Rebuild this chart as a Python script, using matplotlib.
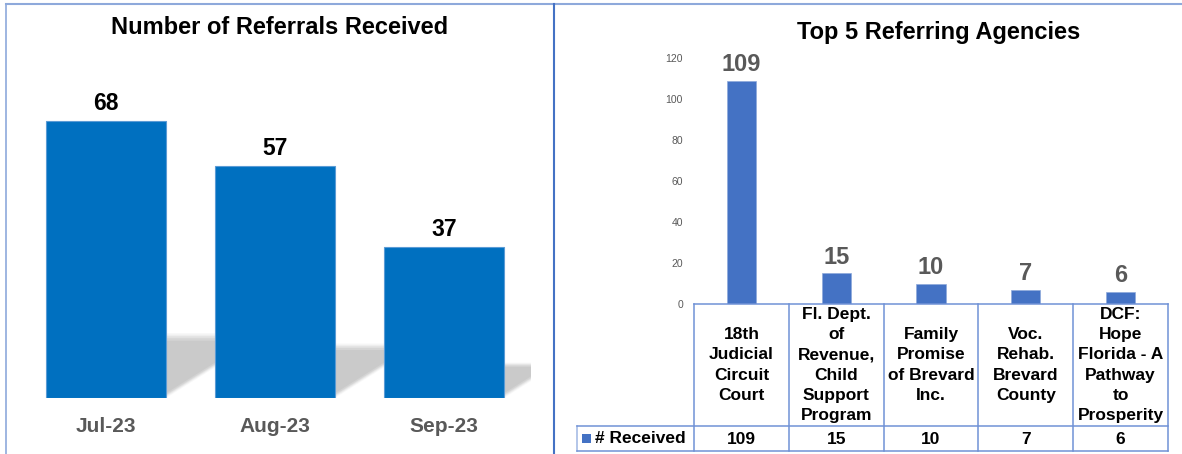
import matplotlib
matplotlib.use('Agg')
import matplotlib.pyplot as plt
from matplotlib.patches import Polygon, Rectangle
from matplotlib.lines import Line2D

# ---------------- data ----------------
months = ['Jul-23', 'Aug-23', 'Sep-23']
referrals = [68, 57, 37]

agencies = ['18th\nJudicial\nCircuit\nCourt',
            'Fl. Dept.\nof\nRevenue,\nChild\nSupport\nProgram',
            'Family\nPromise\nof Brevard\nInc.',
            'Voc.\nRehab.\nBrevard\nCounty',
            'DCF:\nHope\nFlorida - A\nPathway\nto\nProsperity']
received = [109, 15, 10, 7, 6]
series_name = '# Received'
y_ticks = [0, 20, 40, 60, 80, 100, 120]

title_left = 'Number of Referrals Received'
title_right = 'Top 5 Referring Agencies'

# ---------------- setup ----------------
plt.rcParams['font.family'] = ['Liberation Sans', 'DejaVu Sans']
W, H = 1182, 454
fig = plt.figure(figsize=(W / 100, H / 100), dpi=100)


def fx(x):
    return x / W


def fy(y):
    return 1 - y / H


def px_x(ax, xd):
    return ax.transData.transform((xd, 0))[0]


# ---------------- left chart ----------------
axL = fig.add_axes([fx(19), fy(398), fx(531) - fx(19), fy(40) - fy(398)])
xl = list(range(len(months)))
axL.set_xlim(-0.515, 2.515)
axL.set_ylim(0, 88)
bw = 0.71
axL.bar(xl, referrals, width=bw, color='#0070C0', edgecolor='#5B9BD5',
        linewidth=0.8, zorder=3)

# soft perspective shadows
ppx = (531 - 19) / (2.515 + 0.515)
ppy = 358 / 88
shear = 1.6 * ppy / ppx
for x, v in zip(xl, referrals):
    dh_full = 0.235 * v
    layers = [(1.0, 0.0, 0.12), (0.975, 0.01, 0.2), (0.95, 0.02, 0.3),
              (0.92, 0.03, 0.45), (0.88, 0.045, 0.7)]
    for s, inset, a in layers:
        dh = dh_full * s
        dx = shear * dh
        poly = Polygon([(x - bw / 2, 0), (x + bw / 2 - inset, 0),
                        (x + bw / 2 - inset + dx, dh), (x - bw / 2 + dx, dh)],
                       closed=True, facecolor='#c6c6c6', edgecolor='none',
                       alpha=a, zorder=1)
        axL.add_patch(poly)

for x, v in zip(xl, referrals):
    axL.annotate(str(v), (x, v), xytext=(0, 8), textcoords='offset points',
                 ha='center', va='baseline', fontsize=16.5, fontweight='bold',
                 color='black')

axL.set_xticks(xl)
axL.set_xticklabels(months, fontsize=15, fontweight='bold', color='#595959')
axL.tick_params(axis='x', length=0, pad=14)
axL.set_yticks([])
for sp in axL.spines.values():
    sp.set_visible(False)

fig.text(fx(280), fy(27), title_left, ha='center', va='center',
         fontsize=17, fontweight='bold', color='black')

# ---------------- right chart ----------------
axR = fig.add_axes([fx(694), fy(304), fx(1168) - fx(694), fy(58) - fy(304)])
xr = list(range(len(received)))
axR.set_xlim(-0.5, len(received) - 0.5)
axR.set_ylim(0, 120)
axR.bar(xr, received, width=0.31, color='#4472C4', edgecolor='#8EA9DB',
        linewidth=0.5, zorder=3)
for x, v in zip(xr, received):
    axR.annotate(str(v), (x, v), xytext=(0, 7), textcoords='offset points',
                 ha='center', va='baseline', fontsize=17, fontweight='bold',
                 color='#595959')
axR.set_yticks(y_ticks)
axR.set_yticklabels([str(t) for t in y_ticks], fontsize=7.5, color='#595959')
axR.tick_params(axis='y', length=0, pad=8)
axR.set_xticks([])
for sp in axR.spines.values():
    sp.set_visible(False)

fig.text(fx(939), fy(33), title_right, ha='center', va='center',
         fontsize=17, fontweight='bold', color='black')

# ---------------- data table ----------------
tcol = '#7092D6'
edges_px = [px_x(axR, i - 0.5) for i in range(len(received) + 1)]
right_px = edges_px[-1]
leg_left = 577
y_top, y_mid, y_bot = 304, 426, 451
for e in edges_px:
    fig.add_artist(Line2D([e / W, e / W], [fy(y_top), fy(y_bot)],
                          color=tcol, lw=1.1))
fig.add_artist(Line2D([leg_left / W, leg_left / W], [fy(y_mid), fy(y_bot)],
                      color='#9FB6E3', lw=1.1))
fig.add_artist(Line2D([edges_px[0] / W, right_px / W], [fy(y_top), fy(y_top)],
                      color=tcol, lw=1.1))
for yy in (y_mid, y_bot):
    fig.add_artist(Line2D([leg_left / W, right_px / W], [fy(yy), fy(yy)],
                          color=tcol, lw=1.1))

for i, (lab, v) in enumerate(zip(agencies, received)):
    cx = px_x(axR, i) / W
    fig.text(cx, fy((y_top + y_mid) / 2), lab, ha='center', va='center',
             multialignment='center', fontsize=12.5, fontweight='bold',
             linespacing=1.43, color='black')
    fig.text(cx, fy((y_mid + y_bot) / 2 + 0.5), str(v), ha='center',
             va='center', fontsize=12.5, fontweight='bold', color='black')

fig.add_artist(Rectangle((fx(582), fy(443)), 9 / W, 9 / H,
                         transform=fig.transFigure, facecolor='#4472C4',
                         edgecolor='none'))
fig.text(fx(595), fy(438.5), series_name, ha='left', va='center',
         fontsize=12.5, fontweight='bold', color='black')

# ---------------- panel borders ----------------
fig.add_artist(Line2D([fx(6), 1], [fy(3.5), fy(3.5)], color='#8EA9DB', lw=1.5))
fig.add_artist(Line2D([fx(6.4), fx(6.4)], [fy(3.5), 0], color='#8EA9DB', lw=1.2))
fig.add_artist(Line2D([fx(554.3), fx(554.3)], [fy(3.5), 0], color='#4472C4', lw=1.5))

fig.savefig('out.png', dpi=100)
